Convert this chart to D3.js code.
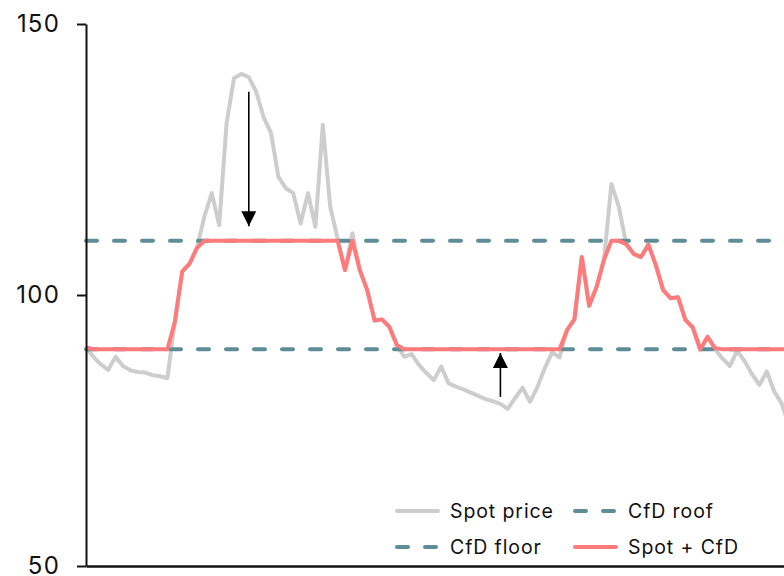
<!DOCTYPE html>
<html>
<head>
<meta charset="utf-8">
<script src="https://cdn.jsdelivr.net/npm/d3@7"></script>
<style>
  body { margin: 0; background: #fff; }
  svg { display: block; font-family: Inter, "Open Sans", sans-serif; }
</style>
</head>
<body>
<div id="chart"></div>
<script>
// spot price, one value per quarter hour
const spot = [90.3, 88.6, 87.2, 86.2, 88.6, 86.9, 86.1, 85.8, 85.7, 85.2, 85.0, 84.7,
  95.0, 104.3, 105.8, 108.7, 114.5, 118.8, 112.9, 131.7, 140.0, 140.8,
  140.2, 137.5, 132.8, 129.9, 121.8, 119.7, 118.8, 113.2, 118.8, 112.6,
  131.4, 116.3, 110.4, 104.6, 111.4, 104.6, 100.9, 95.3, 95.5, 94.1,
  90.8, 88.6, 89.1, 87.1, 85.6, 84.3, 86.8, 83.7, 83.1, 82.6,
  82.0, 81.4, 80.8, 80.4, 79.9, 79.0, 81.0, 82.9, 80.3, 83.0,
  86.5, 89.4, 88.5, 93.5, 95.5, 107.0, 98.0, 101.5, 106.5, 120.5,
  116.3, 109.4, 107.6, 107.0, 109.3, 105.5, 100.9, 99.4, 99.6, 95.4,
  94.0, 89.8, 92.3, 90.0, 88.3, 86.9, 89.7, 87.8, 85.4, 83.4,
  85.9, 82.2, 80.0, 76.0];

// spot + CfD (price held between floor and roof)
const spotCfd = [90.3, 90, 90, 90, 90, 90, 90, 90, 90, 90, 90, 90,
  95.0, 104.3, 105.8, 108.7, 110, 110, 110, 110, 110, 110,
  110, 110, 110, 110, 110, 110, 110, 110, 110, 110,
  110, 110, 110, 104.6, 110, 104.6, 100.9, 95.3, 95.5, 94.1,
  90.8, 90, 90, 90, 90, 90, 90, 90, 90, 90,
  90, 90, 90, 90, 90, 90, 90, 90, 90, 90,
  90, 90, 90, 93.5, 95.5, 107.0, 98.0, 101.5, 106.5, 110,
  110, 109.4, 107.6, 107.0, 109.3, 105.5, 100.9, 99.4, 99.6, 95.4,
  94.0, 90, 92.3, 90.2, 90, 90, 90, 90, 90, 90,
  90, 90, 90, 90];

const cfdRoof = 110;
const cfdFloor = 90;
const yTicks = [50, 100, 150];

// arrows: index, start value, tip value
const arrows = [
  { i: 22, from: 137.5, to: 112.7 },
  { i: 56, from: 81.2, to: 89.3 }
];

const legendItems = [
  { label: 'Spot price', type: 'spot' },
  { label: 'CfD roof', type: 'cfd' },
  { label: 'CfD floor', type: 'cfd' },
  { label: 'Spot + CfD', type: 'red' }
];

const width = 784;
const height = 576;
const grey = '#cdcdcd';
const teal = '#5f8d97';
const red = '#ff7b7b';

const svg = d3.select('#chart').append('svg')
  .attr('width', width)
  .attr('height', height);

const x = d3.scaleLinear().domain([0, spot.length - 1]).range([86, 789]);
const y = d3.scaleLinear().domain([50, 150]).range([566, 24]);

const line = d3.line()
  .x((d, i) => x(i))
  .y(d => y(d));

// spot price
svg.append('path')
  .datum(spot)
  .attr('d', line)
  .attr('fill', 'none')
  .attr('stroke', grey)
  .attr('stroke-width', 4)
  .attr('stroke-linejoin', 'round');

// floor and roof
svg.selectAll('.cfd')
  .data([cfdRoof, cfdFloor])
  .enter()
  .append('line')
  .attr('class', 'cfd')
  .attr('x1', x(0))
  .attr('x2', width)
  .attr('y1', d => y(d))
  .attr('y2', d => y(d))
  .attr('stroke', teal)
  .attr('stroke-width', 4)
  .attr('stroke-linecap', 'round')
  .attr('stroke-dasharray', '11,17');

// spot + cfd
svg.append('path')
  .datum(spotCfd)
  .attr('d', line)
  .attr('fill', 'none')
  .attr('stroke', red)
  .attr('stroke-width', 4)
  .attr('stroke-linejoin', 'round');

// arrows
svg.append('defs').append('marker')
  .attr('id', 'head')
  .attr('viewBox', '0 0 10 10')
  .attr('refX', 10)
  .attr('refY', 5)
  .attr('markerWidth', 15)
  .attr('markerHeight', 15)
  .attr('markerUnits', 'userSpaceOnUse')
  .attr('orient', 'auto')
  .append('path')
  .attr('d', 'M0,0L10,5L0,10Z')
  .attr('fill', '#000');

svg.selectAll('.arrow')
  .data(arrows)
  .enter()
  .append('line')
  .attr('class', 'arrow')
  .attr('x1', d => x(d.i))
  .attr('x2', d => x(d.i))
  .attr('y1', d => y(d.from))
  .attr('y2', d => y(d.to))
  .attr('stroke', '#000')
  .attr('stroke-width', 1.6)
  .attr('marker-end', 'url(#head)');

// axes
const axisY = d3.axisLeft(y).tickValues(yTicks).tickSize(9).tickSizeOuter(0).tickPadding(17);
const gy = svg.append('g')
  .attr('transform', `translate(${x(0)},0)`)
  .call(axisY);
gy.select('.domain').attr('stroke', '#111').attr('stroke-width', 2);
gy.selectAll('.tick line').attr('stroke', '#111').attr('stroke-width', 2);
gy.selectAll('.tick text')
  .attr('font-size', 24)
  .attr('font-family', 'Inter, sans-serif')
  .attr('letter-spacing', 1.2)
  .attr('fill', '#111');

const axisX = d3.axisBottom(x).tickValues([]).tickSizeOuter(0);
const gx = svg.append('g')
  .attr('transform', `translate(0,${y(50)})`)
  .call(axisX);
gx.select('.domain').attr('stroke', '#111').attr('stroke-width', 2.5);

// legend
const legend = svg.append('g').attr('class', 'legend');
const item = legend.selectAll('.item')
  .data(legendItems)
  .enter()
  .append('g')
  .attr('class', 'item')
  .attr('transform', (d, i) => `translate(${i % 2 ? 575 : 397},${i < 2 ? 511 : 547})`);

item.append('line')
  .attr('x1', 0)
  .attr('x2', d => d.type === 'cfd' ? 42 : 41)
  .attr('y1', 0)
  .attr('y2', 0)
  .attr('stroke', d => d.type === 'spot' ? grey : d.type === 'red' ? red : teal)
  .attr('stroke-width', 4)
  .attr('stroke-linecap', 'round')
  .attr('stroke-dasharray', d => d.type === 'cfd' ? '11,17' : null);

item.append('text')
  .attr('x', 53)
  .attr('y', 0)
  .attr('dy', '0.35em')
  .attr('font-size', 19.5)
  .attr('letter-spacing', 0.9)
  .attr('fill', '#111')
  .text(d => d.label);
</script>
</body>
</html>
